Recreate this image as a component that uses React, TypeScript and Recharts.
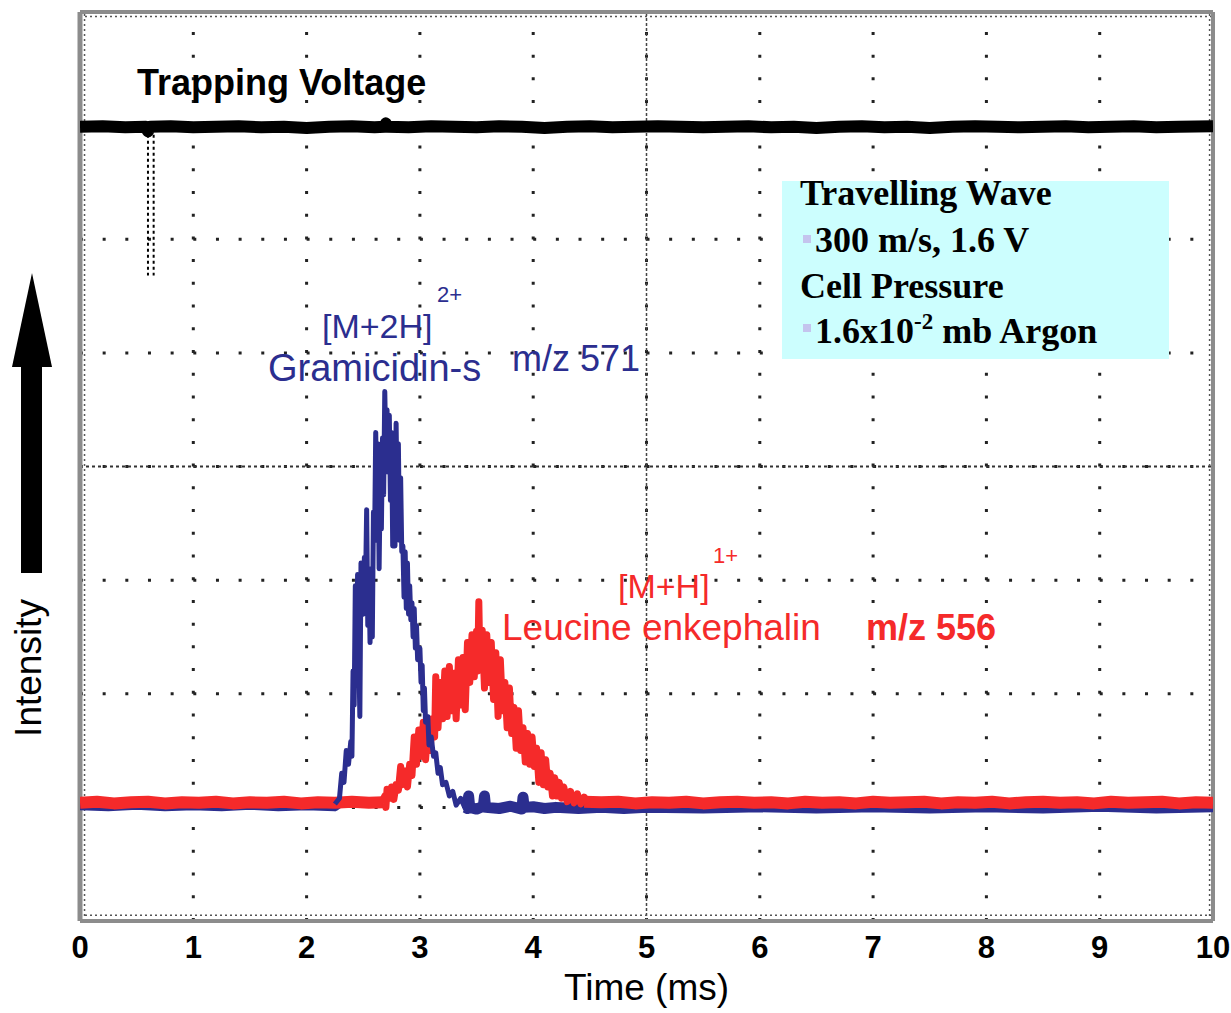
import React from 'react';
import { LineChart, Line, XAxis, YAxis, ReferenceLine } from 'recharts';

const SANS = '"Liberation Sans", Arial, sans-serif';
const SERIF = '"Liberation Serif", "Times New Roman", serif';
const BLUE = '#2b2e8f';
const RED = '#f52a2a';

// x axis in ms, y axis in scope divisions (8 screen divisions)
const timeTicks = [0, 1, 2, 3, 4, 5, 6, 7, 8, 9, 10];
const divisionTicks = [0, 1, 2, 3, 4, 5, 6, 7, 8];

// [time ms, divisions]
const trappingVoltage: [number, number][] = [
  [0, 6.99], [0.2, 6.995], [0.4, 6.985], [0.58, 6.99], [0.6, 6.95], [0.62, 6.99], [0.8, 6.995],
  [1.0, 6.985], [1.2, 6.99], [1.4, 6.995], [1.6, 6.985], [1.8, 6.99], [2.0, 6.98], [2.2, 6.99],
  [2.4, 6.995], [2.6, 6.985], [2.69, 6.99], [2.7, 7.02], [2.71, 6.99], [2.9, 6.985], [3.1, 6.995],
  [3.3, 6.99], [3.5, 6.985], [3.7, 6.995], [3.9, 6.99], [4.1, 6.98], [4.3, 6.99], [4.5, 6.995],
  [4.7, 6.985], [4.9, 6.99], [5.1, 6.995], [5.3, 6.99], [5.5, 6.985], [5.7, 6.99], [5.9, 6.995],
  [6.1, 6.985], [6.3, 6.99], [6.5, 6.98], [6.7, 6.99], [6.9, 6.995], [7.1, 6.985], [7.3, 6.99],
  [7.5, 6.98], [7.7, 6.99], [7.9, 6.995], [8.1, 6.99], [8.3, 6.985], [8.5, 6.99], [8.7, 6.995],
  [8.9, 6.985], [9.1, 6.99], [9.3, 6.995], [9.5, 6.985], [9.7, 6.99], [10, 6.995],
];

const trapMarkerA: [number, number][] = [[0.6, 6.92], [0.6, 5.68]];
const trapMarkerB: [number, number][] = [[0.65, 6.92], [0.65, 5.68]];

const gramicidinBaseEarly: [number, number][] = [
  [0, 1.01], [0.25, 1.0], [0.5, 1.015], [0.75, 1.0], [1.0, 1.01], [1.25, 1.0], [1.5, 1.015],
  [1.75, 1.0], [2.0, 1.01], [2.25, 1.0], [2.29, 1.03],
];

const gramicidinPeak: [number, number][] = [
  [2.25, 1.03], [2.29, 1.08], [2.31, 1.3], [2.33, 1.22], [2.35, 1.5], [2.37, 1.38], [2.39, 1.58],
  [2.4, 1.45], [2.41, 2.2], [2.42, 1.9], [2.43, 2.95], [2.44, 2.3], [2.45, 3.05], [2.46, 2.4],
  [2.47, 1.8], [2.48, 3.15], [2.5, 2.7], [2.51, 3.2], [2.52, 2.95], [2.53, 3.62], [2.54, 2.6],
  [2.55, 3.05], [2.56, 2.45], [2.57, 3.1], [2.58, 2.5], [2.59, 3.6], [2.6, 3.35], [2.61, 4.3],
  [2.62, 3.7], [2.63, 4.2], [2.64, 3.1], [2.65, 3.9], [2.66, 3.45], [2.67, 4.25], [2.68, 3.75],
  [2.69, 4.66], [2.7, 4.1], [2.71, 4.5], [2.72, 3.95], [2.73, 4.45], [2.74, 3.7], [2.75, 4.3],
  [2.76, 3.3], [2.77, 4.05], [2.78, 3.3], [2.79, 4.38], [2.8, 3.6], [2.81, 4.2], [2.82, 3.35],
  [2.83, 3.9], [2.84, 3.25], [2.85, 3.3], [2.86, 2.85], [2.87, 3.25], [2.88, 2.75], [2.89, 3.15],
  [2.9, 2.7], [2.91, 2.95], [2.92, 2.65], [2.93, 2.8], [2.94, 2.5], [2.95, 2.75], [2.96, 2.4],
  [2.97, 2.6], [2.98, 2.3], [3.0, 2.4], [3.01, 2.1], [3.02, 2.25], [3.03, 1.85], [3.04, 2.05],
  [3.05, 1.75], [3.07, 1.8], [3.08, 1.55], [3.1, 1.62], [3.12, 1.45], [3.14, 1.48], [3.16, 1.3],
  [3.18, 1.35], [3.2, 1.2], [3.23, 1.22], [3.26, 1.1], [3.29, 1.14], [3.32, 1.02], [3.36, 1.08],
  [3.4, 0.99], [3.45, 1.02],
];

const gramicidinBaseLate: [number, number][] = [
  [3.4, 1.0], [3.42, 0.99], [3.43, 1.1], [3.44, 1.0], [3.5, 0.985], [3.56, 1.01], [3.57, 1.1],
  [3.58, 1.0], [3.7, 0.99], [3.8, 1.01], [3.9, 0.985], [3.91, 1.09], [3.92, 1.0], [4.0, 1.005],
  [4.1, 0.99], [4.2, 1.0], [4.4, 0.99], [4.6, 1.0], [4.8, 0.99], [5.0, 1.0], [5.5, 0.995],
  [6.0, 1.005], [6.5, 0.995], [7.0, 1.005], [7.5, 0.995], [8.0, 1.005], [8.5, 0.995], [9.0, 1.01],
  [9.5, 0.995], [10, 1.005],
];

const leucineBaseEarly: [number, number][] = [
  [0, 1.04], [0.15, 1.05], [0.3, 1.035], [0.45, 1.045], [0.6, 1.05], [0.75, 1.035], [0.9, 1.045],
  [1.05, 1.04], [1.2, 1.05], [1.35, 1.035], [1.5, 1.045], [1.65, 1.04], [1.8, 1.05], [1.95, 1.035],
  [2.1, 1.045], [2.25, 1.04], [2.4, 1.05], [2.55, 1.04], [2.68, 1.045],
];

const leucinePeak: [number, number][] = [
  [2.66, 1.04], [2.69, 1.1], [2.7, 1.0], [2.71, 1.16], [2.73, 1.08], [2.75, 1.18], [2.77, 1.07],
  [2.79, 1.2], [2.81, 1.15], [2.83, 1.36], [2.85, 1.2], [2.87, 1.32], [2.89, 1.18], [2.91, 1.38],
  [2.93, 1.28], [2.95, 1.62], [2.97, 1.38], [2.99, 1.68], [3.01, 1.45], [3.03, 1.75], [3.05, 1.42],
  [3.07, 1.7], [3.09, 1.5], [3.11, 1.78], [3.13, 1.62], [3.14, 2.15], [3.16, 1.7], [3.18, 2.1],
  [3.2, 1.78], [3.22, 2.2], [3.24, 1.8], [3.26, 2.24], [3.28, 1.85], [3.3, 2.18], [3.32, 1.78],
  [3.34, 2.3], [3.36, 1.9], [3.38, 2.32], [3.4, 1.86], [3.42, 2.45], [3.44, 2.1], [3.46, 2.52],
  [3.48, 2.15], [3.5, 2.55], [3.51, 2.2], [3.52, 2.81], [3.53, 2.25], [3.55, 2.56], [3.57, 2.05],
  [3.59, 2.52], [3.61, 2.1], [3.63, 2.45], [3.65, 1.95], [3.67, 2.36], [3.69, 1.8], [3.71, 2.3],
  [3.73, 1.85], [3.75, 2.1], [3.77, 1.7], [3.79, 2.05], [3.81, 1.65], [3.83, 1.88], [3.85, 1.52],
  [3.87, 1.85], [3.89, 1.5], [3.91, 1.7], [3.93, 1.4], [3.95, 1.65], [3.97, 1.38], [3.99, 1.62],
  [4.01, 1.36], [4.03, 1.52], [4.05, 1.22], [4.07, 1.48], [4.09, 1.2], [4.11, 1.42], [4.13, 1.18],
  [4.15, 1.3], [4.17, 1.1], [4.19, 1.26], [4.21, 1.1], [4.23, 1.22], [4.25, 1.08], [4.27, 1.18],
  [4.3, 1.05], [4.33, 1.14], [4.36, 1.04], [4.39, 1.12], [4.42, 1.03], [4.45, 1.09], [4.48, 1.04],
];

const leucineBaseLate: [number, number][] = [
  [4.45, 1.05], [4.6, 1.045], [4.75, 1.05], [4.9, 1.035], [5.05, 1.045], [5.2, 1.04], [5.35, 1.05],
  [5.5, 1.035], [5.65, 1.045], [5.8, 1.05], [5.95, 1.04], [6.1, 1.045], [6.25, 1.035], [6.4, 1.05],
  [6.55, 1.04], [6.7, 1.045], [6.85, 1.035], [7.0, 1.05], [7.15, 1.04], [7.3, 1.045], [7.45, 1.05],
  [7.6, 1.035], [7.75, 1.045], [7.9, 1.04], [8.05, 1.05], [8.2, 1.035], [8.35, 1.045], [8.5, 1.05],
  [8.65, 1.04], [8.8, 1.045], [8.95, 1.035], [9.1, 1.05], [9.25, 1.04], [9.4, 1.045], [9.55, 1.05],
  [9.7, 1.035], [9.85, 1.045], [10, 1.04],
];

const toPoints = (rows: [number, number][]) => rows.map(([t, v]) => ({ t, v }));

const trace = (rows: [number, number][], color: string, width: number, key: string, dash?: string) => (
  <Line
    key={key}
    data={toPoints(rows)}
    dataKey="v"
    type="linear"
    stroke={color}
    strokeWidth={width}
    strokeDasharray={dash}
    strokeLinejoin="round"
    dot={false}
    activeDot={false}
    isAnimationActive={false}
  />
);

const Overlay = () => (
  <svg
    width={1231}
    height={1013}
    style={{ position: 'absolute', left: 0, top: 0, pointerEvents: 'none' }}
  >
    {/* intensity arrow */}
    <polygon points="32,273 12,367 52,367" fill="#000" />
    <rect x={21} y={365} width={21} height={208} fill="#000" />
    <text
      x={41}
      y={668}
      transform="rotate(-90 41 668)"
      textAnchor="middle"
      fontFamily={SANS}
      fontSize={37}
      fill="#000"
    >
      Intensity
    </text>

    <text x={137} y={95} fontFamily={SANS} fontSize={36} fontWeight="bold" fill="#000">
      Trapping Voltage
    </text>

    <text x={322} y={338} fontFamily={SANS} fontSize={34} fill={BLUE}>[M+2H]</text>
    <text x={437} y={302} fontFamily={SANS} fontSize={22} fill={BLUE}>2+</text>
    <text x={268} y={381} fontFamily={SANS} fontSize={38} fill={BLUE}>Gramicidin-s</text>
    <text x={512} y={371} fontFamily={SANS} fontSize={36} fill={BLUE}>m/z 571</text>

    <text x={618} y={598} fontFamily={SANS} fontSize={34} fill={RED}>[M+H]</text>
    <text x={713} y={563} fontFamily={SANS} fontSize={22} fill={RED}>1+</text>
    <text x={502} y={640} fontFamily={SANS} fontSize={37} fill={RED}>Leucine enkephalin</text>
    <text x={866} y={640} fontFamily={SANS} fontSize={36} fontWeight="bold" fill={RED}>m/z 556</text>

    <rect x={782} y={181} width={387} height={178} fill="#ccfefe" />
    <rect x={803} y={235} width={8} height={8} fill="#c4c4ee" />
    <rect x={803} y={324} width={8} height={8} fill="#c4c4ee" />
    <g fontFamily={SERIF} fontSize={36} fontWeight="bold" fill="#000">
      <text x={800} y={205}>Travelling Wave</text>
      <text x={815} y={252}>300 m/s, 1.6 V</text>
      <text x={800} y={298}>Cell Pressure</text>
      <text x={815} y={343}>
        1.6x10<tspan fontSize={23} dy={-14}>-2</tspan>
        <tspan dy={14}> mb Argon</tspan>
      </text>
    </g>
  </svg>
);

export default function App() {
  return (
    <div style={{ position: 'absolute', left: 0, top: 0, width: 1231, height: 1013, background: '#fff' }}>
      <LineChart width={1231} height={1013} margin={{ top: 12, right: 18, bottom: 0, left: 80 }}>
        <XAxis
          dataKey="t"
          type="number"
          domain={[0, 10]}
          ticks={timeTicks}
          interval={0}
          allowDataOverflow
          axisLine={false}
          tickLine={false}
          tickSize={0}
          tickMargin={15}
          height={92}
          tick={{ fill: '#000', fontSize: 31, fontWeight: 'bold', fontFamily: SANS }}
          label={{ value: 'Time (ms)', position: 'insideBottom', offset: 13, fill: '#000', fontSize: 37, fontFamily: SANS }}
        />
        <YAxis type="number" domain={[0, 8]} ticks={divisionTicks} hide allowDataOverflow />

        {/* scope graticule */}
        {timeTicks.map((t) => (
          <ReferenceLine key={`gx${t}`} x={t} stroke="#222" strokeWidth={3} strokeDasharray="3 19.72" />
        ))}
        {divisionTicks.map((d) => (
          <ReferenceLine key={`gy${d}`} y={d} stroke="#222" strokeWidth={3} strokeDasharray="3 19.66" />
        ))}
        <ReferenceLine x={5} stroke="#444" strokeWidth={1.5} strokeDasharray="3 2" />
        <ReferenceLine y={4} stroke="#333" strokeWidth={2} strokeDasharray="3 3" />
        <ReferenceLine y={0.05} stroke="#555" strokeWidth={1.5} strokeDasharray="2 3" />
        <ReferenceLine y={7.96} stroke="#555" strokeWidth={1.5} strokeDasharray="2 3" />
        <ReferenceLine x={0.04} stroke="#555" strokeWidth={1.5} strokeDasharray="2 3" />
        <ReferenceLine x={9.97} stroke="#555" strokeWidth={1.5} strokeDasharray="2 3" />
        <ReferenceLine x={0} stroke="#8c8c8c" strokeWidth={5} />
        <ReferenceLine x={10} stroke="#8c8c8c" strokeWidth={4} />
        <ReferenceLine y={0} stroke="#8c8c8c" strokeWidth={4} />
        <ReferenceLine y={8} stroke="#8c8c8c" strokeWidth={4} />

        {trace(trapMarkerA, '#000', 2, 'mA', '3 3')}
        {trace(trapMarkerB, '#000', 2, 'mB', '3 3')}
        {trace(trappingVoltage, '#000', 12, 'trap')}
        {trace(gramicidinBaseEarly, BLUE, 8, 'gE')}
        {trace(gramicidinBaseLate, BLUE, 11, 'gL')}
        {trace(leucineBaseEarly, RED, 12, 'lE')}
        {trace(leucineBaseLate, RED, 12, 'lL')}
        {trace(leucinePeak, RED, 7, 'lP')}
        {trace(gramicidinPeak, BLUE, 5, 'gP')}
      </LineChart>
      <Overlay />
    </div>
  );
}
